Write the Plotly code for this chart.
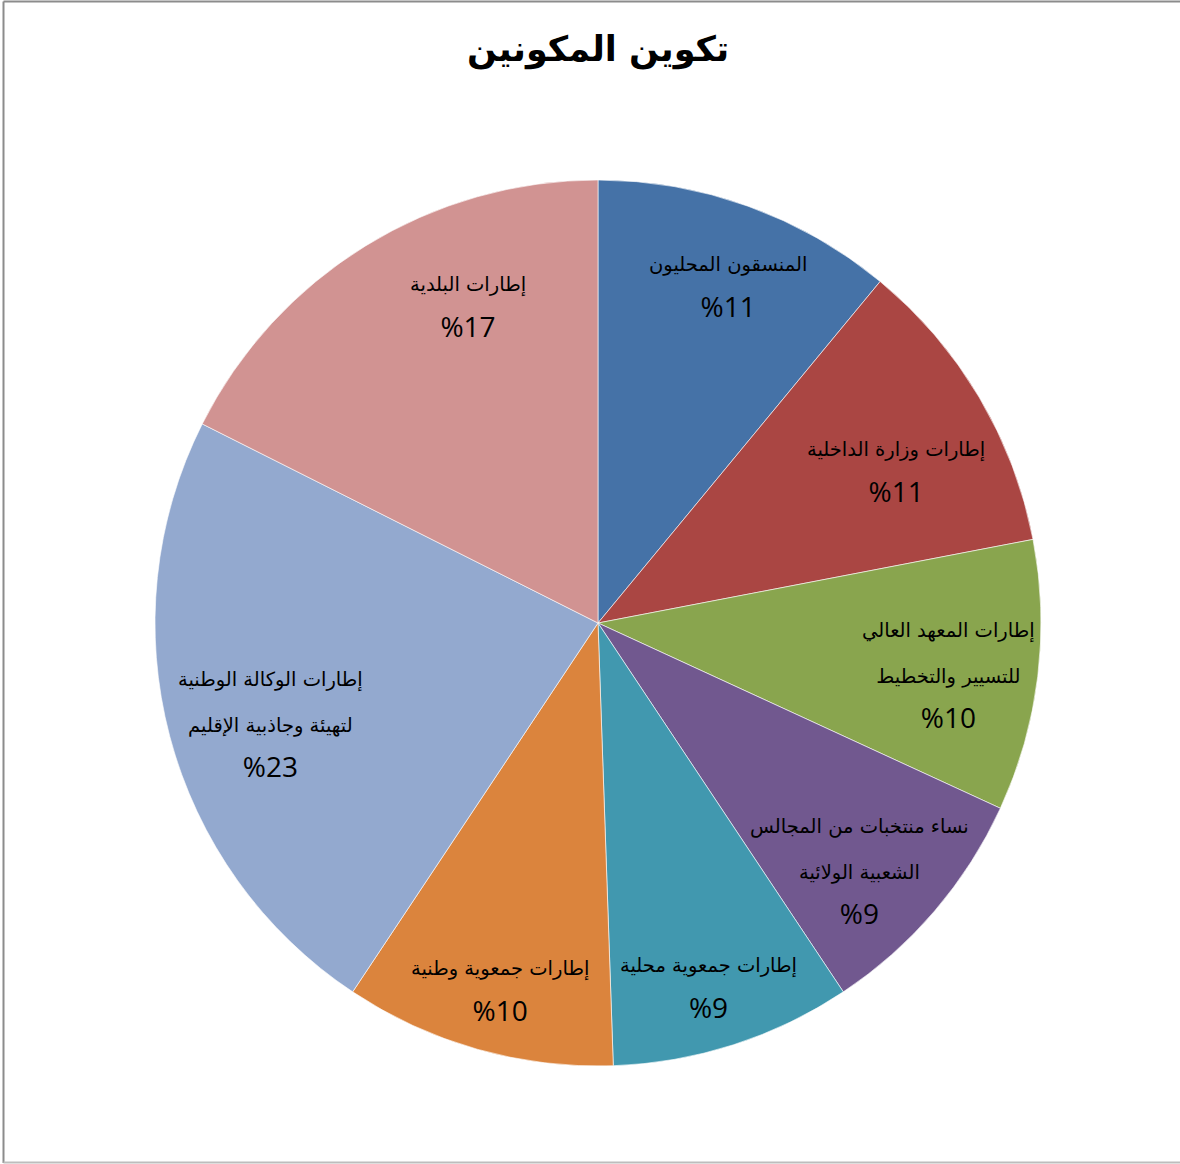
import math
import plotly.graph_objects as go

# ---- data ----
categories = [
    "المنسقون المحليون",
    "إطارات وزارة الداخلية",
    "إطارات المعهد العالي<br>للتسيير والتخطيط",
    "نساء منتخبات من المجالس<br>الشعبية الولائية",
    "إطارات جمعوية محلية",
    "إطارات جمعوية وطنية",
    "إطارات الوكالة الوطنية<br>لتهيئة وجاذبية الإقليم",
    "إطارات البلدية",
]
counts = [10, 10, 9, 8, 8, 9, 21, 16]
pct_labels = ["%11", "%11", "%10", "%9", "%9", "%10", "%23", "%17"]
colors = ["#4572A7", "#AA4643", "#89A54E", "#71588F",
          "#4198AF", "#DB843D", "#93A9CF", "#D19392"]
title_text = "تكوين المكونين"

# ---- style: radial placement of each data label (fraction of radius) ----
label_radius = [0.81, 0.752, 0.80, 0.817, 0.865, 0.864, 0.776, 0.767]
label_angle_shift = [1.5, 4.1, 2.0, 3.2, 1.1, -1.0, -2.6, 9.1]  # degrees

# ---- layout geometry ----
W, H = 1180, 1164
CX, CY, R = 598, 623, 443
dom_x = [(CX - R) / W, (CX + R) / W]
dom_y = [(H - CY - R) / H, (H - CY + R) / H]

fig = go.Figure(go.Pie(
    labels=[c.replace("<br>", " ") for c in categories],
    values=counts,
    sort=False,
    direction="clockwise",
    rotation=0,
    marker=dict(colors=colors, line=dict(color="rgba(255,255,255,0.6)", width=1)),
    textinfo="none",
    hoverinfo="label+percent",
    domain=dict(x=dom_x, y=dom_y),
    showlegend=False,
))

total = sum(counts)
cum = 0
annotations = []
for cat, v, pct, rf, da in zip(categories, counts, pct_labels, label_radius, label_angle_shift):
    mid = (cum + v / 2) / total * 2 * math.pi + math.radians(da)
    cum += v
    px = CX + rf * R * math.sin(mid)
    py = CY - rf * R * math.cos(mid)
    lines = [f'<span style="font-size:19.5px">{ln}</span>' for ln in cat.split("<br>")]
    lines.append(f'<span style="font-size:28px;font-family:Open Sans">{pct}</span>')
    annotations.append(dict(
        x=px / W, y=(H - py) / H, xref="paper", yref="paper",
        text="<br>".join(lines), showarrow=False,
        font=dict(family="DejaVu Sans", size=35, color="#000000"),
        xanchor="center", yanchor="middle", align="center",
    ))

annotations.append(dict(
    x=598 / W, y=(H - 50) / H, xref="paper", yref="paper",
    text=f"<b>{title_text}</b>", showarrow=False,
    font=dict(family="DejaVu Sans", size=35, color="#000000"),
    xanchor="center", yanchor="middle",
))

fig.update_layout(
    width=W, height=H,
    margin=dict(l=0, r=0, t=0, b=0),
    paper_bgcolor="white", plot_bgcolor="white",
    annotations=annotations,
    shapes=[
        dict(type="line", xref="paper", yref="paper",
             x0=3.5 / W, x1=1.0, y0=(H - 1.5) / H, y1=(H - 1.5) / H,
             line=dict(color="#8c8c8c", width=2)),
        dict(type="line", xref="paper", yref="paper",
             x0=3.5 / W, x1=3.5 / W, y0=(H - 1163) / H, y1=(H - 1.5) / H,
             line=dict(color="#8c8c8c", width=2)),
        dict(type="line", xref="paper", yref="paper",
             x0=3.5 / W, x1=1.0, y0=(H - 1162.5) / H, y1=(H - 1162.5) / H,
             line=dict(color="#bdbdbd", width=2)),
    ],
)

fig.write_html("out.html")
